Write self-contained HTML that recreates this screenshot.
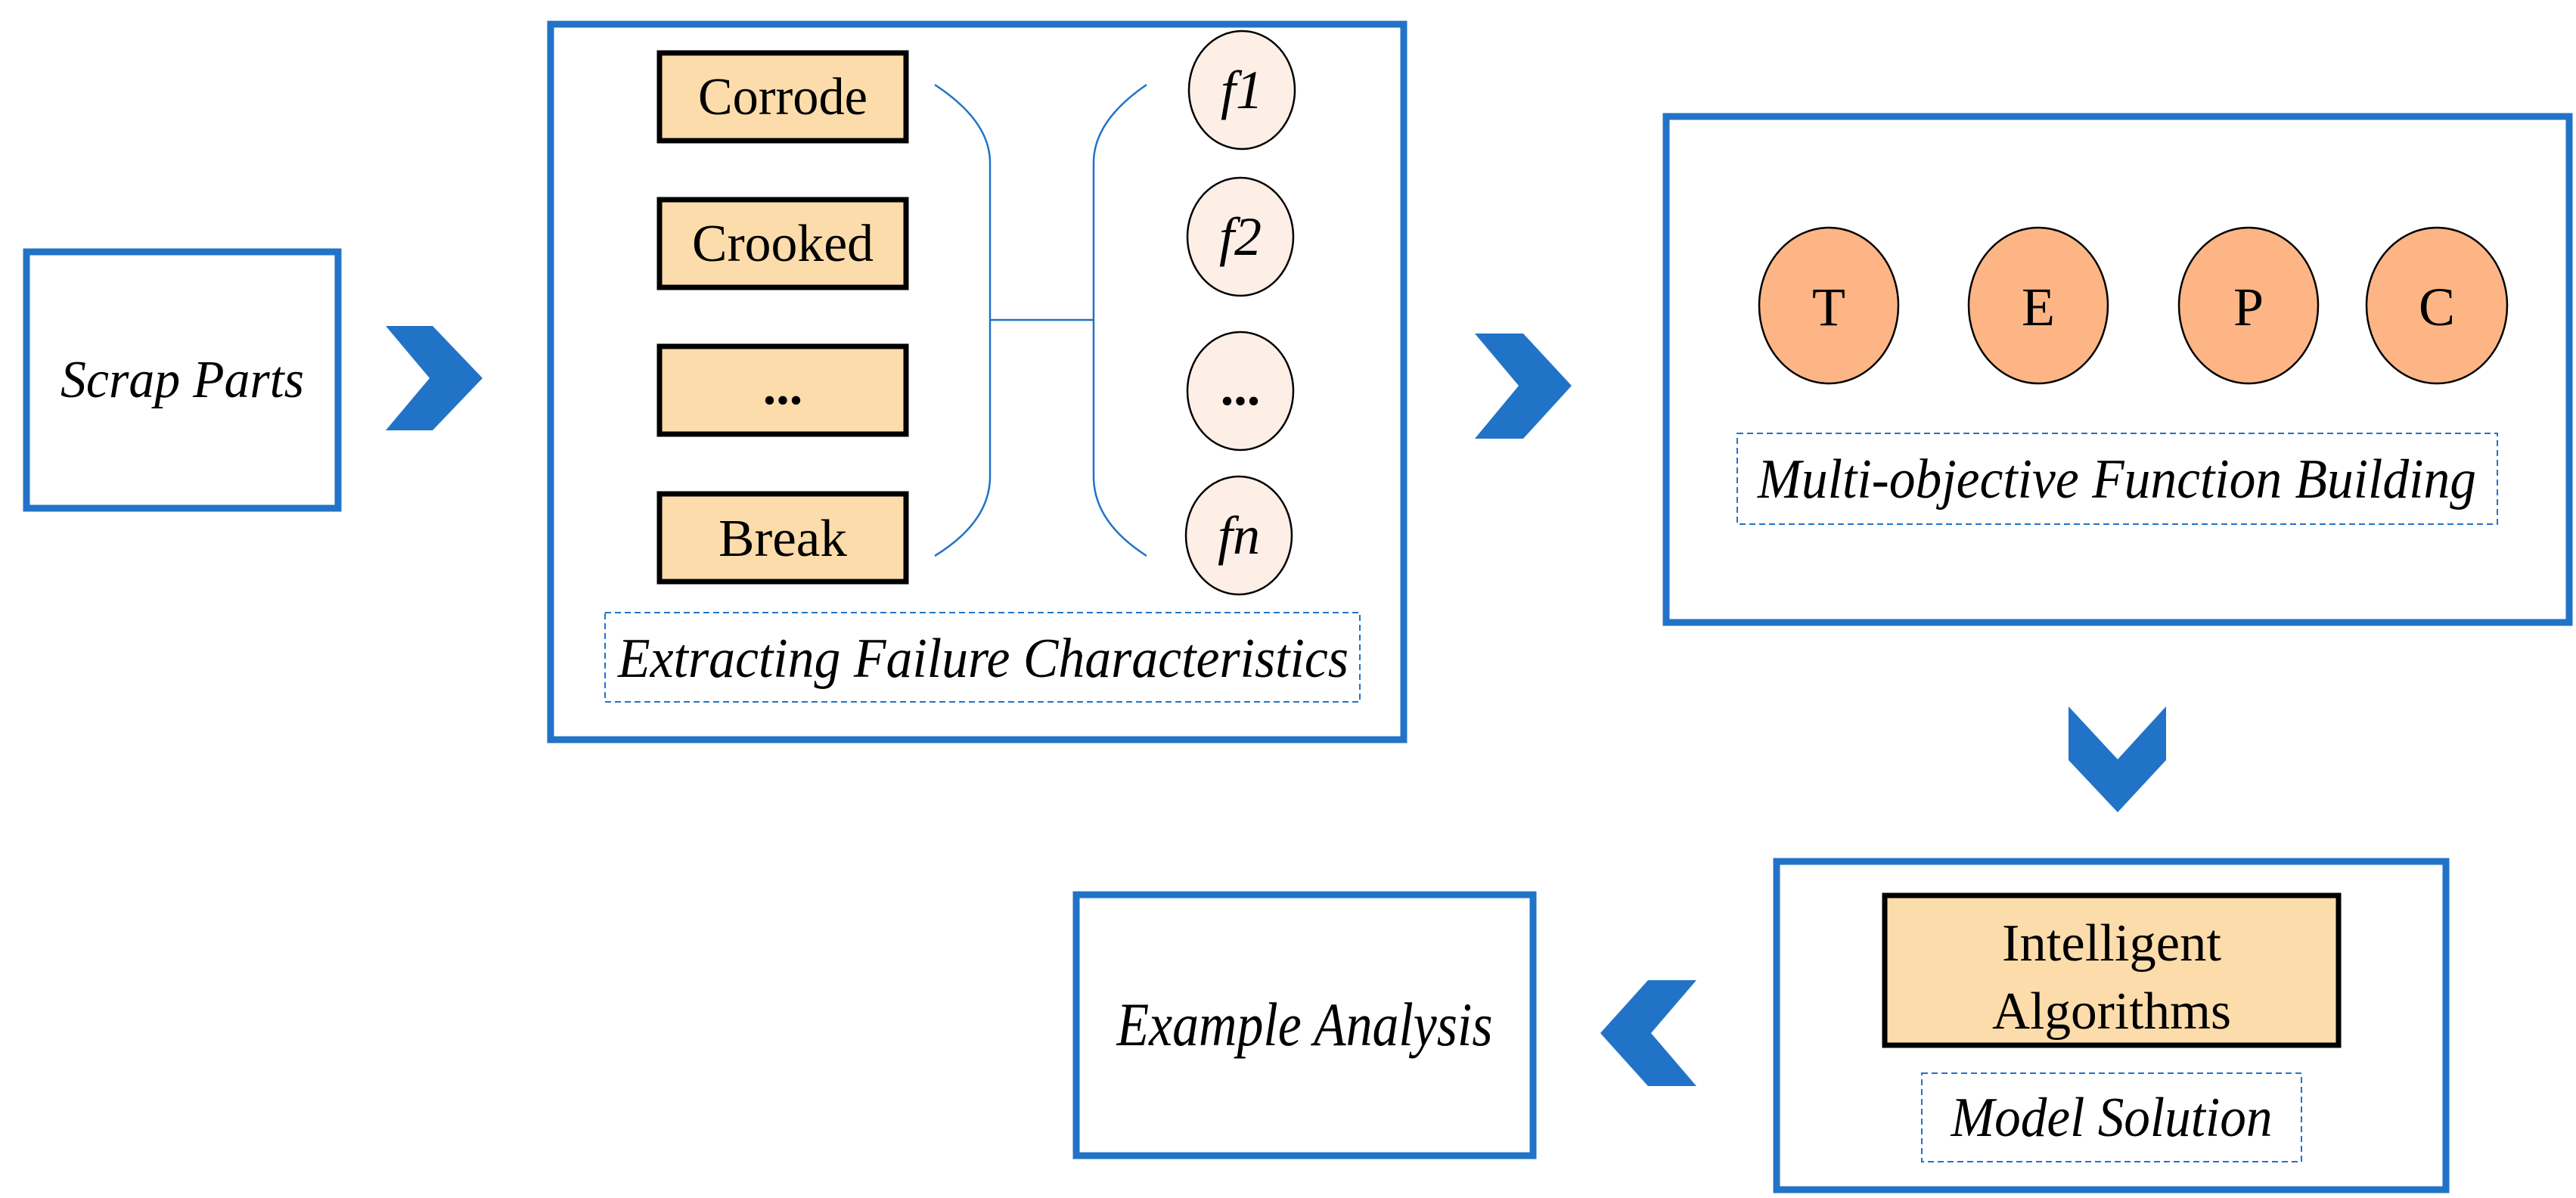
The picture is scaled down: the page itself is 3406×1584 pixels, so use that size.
<!DOCTYPE html>
<html><head><meta charset="utf-8"><style>html,body{margin:0;padding:0;background:#fff}svg{display:block}text{font-family:"Liberation Serif","DejaVu Serif",serif}</style></head>
<body>
<svg width="3406" height="1584" viewBox="0 0 3406 1584" xmlns="http://www.w3.org/2000/svg" style="font-family:'Liberation Serif',serif">
<g fill="none" stroke="#2173c7" stroke-width="9">
<rect x="35" y="333" width="412" height="339"/>
<rect x="728" y="32" width="1128" height="946"/>
<rect x="2203" y="154" width="1194" height="669"/>
<rect x="2349" y="1139" width="885" height="434"/>
<rect x="1423" y="1183" width="604" height="345"/>
</g>
<g fill="#2173c7">
<polygon points="510,431 572,431 638,500 572,569 510,569 568,500"/>
<polygon points="1950,441 2014,441 2078,510 2014,580 1950,580 2008,510"/>
<polygon points="2735,934 2800,1004 2864,934 2864,1005 2800,1074 2735,1005"/>
<polygon points="2243,1296 2179,1296 2116,1366 2179,1436 2243,1436 2183,1366"/>
</g>
<g fill="#fddcab" stroke="#000" stroke-width="7">
<rect x="872" y="70" width="326" height="116"/>
<rect x="872" y="264" width="326" height="116"/>
<rect x="872" y="458" width="326" height="116"/>
<rect x="872" y="653" width="326" height="116"/>
<rect x="2492" y="1184" width="600" height="198"/>
</g>
<g fill="none" stroke="#2173c7" stroke-width="2.5">
<path d="M1236,112 Q1309,160 1309,215 L1309,630 Q1309,690 1236,735"/>
<path d="M1516,112 Q1446,160 1446,215 L1446,630 Q1446,690 1516,735"/>
<line x1="1309" y1="423" x2="1446" y2="423"/>
</g>
<g fill="#fdeee6" stroke="#000" stroke-width="2.5">
<ellipse cx="1642" cy="119" rx="70" ry="78"/>
<ellipse cx="1640" cy="313" rx="70" ry="78"/>
<ellipse cx="1640" cy="517" rx="70" ry="78"/>
<ellipse cx="1638" cy="708" rx="70" ry="78"/>
</g>
<g fill="#fdb586" stroke="#000" stroke-width="2.5">
<ellipse cx="2418" cy="404" rx="92" ry="103"/>
<ellipse cx="2695" cy="404" rx="92" ry="103"/>
<ellipse cx="2973" cy="404" rx="92" ry="103"/>
<ellipse cx="3222" cy="404" rx="93" ry="103"/>
</g>
<g fill="none" stroke="#2173c7" stroke-width="2" stroke-dasharray="8,5">
<rect x="800" y="810" width="998" height="118"/>
<rect x="2297" y="573" width="1005" height="120"/>
<rect x="2541" y="1419" width="502" height="117"/>
</g>
<g fill="#000" font-size="70" text-anchor="middle">
<text x="1035" y="151" textLength="224" lengthAdjust="spacingAndGlyphs">Corrode</text>
<text x="1035" y="345" textLength="240" lengthAdjust="spacingAndGlyphs">Crooked</text>
<text x="1035" y="534" font-weight="bold">...</text>
<text x="1035" y="735" textLength="170" lengthAdjust="spacingAndGlyphs">Break</text>
<text x="2418" y="430" font-size="72">T</text>
<text x="2695" y="430" font-size="72">E</text>
<text x="2973" y="430" font-size="72">P</text>
<text x="3222" y="430" font-size="72">C</text>
<text x="2792" y="1270" textLength="290" lengthAdjust="spacingAndGlyphs">Intelligent</text>
<text x="2792" y="1360" textLength="316" lengthAdjust="spacingAndGlyphs">Algorithms</text>
</g>
<g fill="#000" font-style="italic" text-anchor="middle">
<text x="1642" y="143" font-size="72">f1</text>
<text x="1640" y="337" font-size="72">f2</text>
<text x="1640" y="535" font-size="70" font-style="normal" font-weight="bold">...</text>
<text x="1638" y="732" font-size="72">fn</text>
<text x="241" y="525" font-size="70" textLength="322" lengthAdjust="spacingAndGlyphs">Scrap Parts</text>
<text x="1300" y="895" font-size="74" textLength="966" lengthAdjust="spacingAndGlyphs">Extracting Failure Characteristics</text>
<text x="2799" y="658" font-size="74" textLength="950" lengthAdjust="spacingAndGlyphs">Multi-objective Function Building</text>
<text x="2792" y="1502" font-size="74" textLength="425" lengthAdjust="spacingAndGlyphs">Model Solution</text>
<text x="1725" y="1382" font-size="82" textLength="497" lengthAdjust="spacingAndGlyphs">Example Analysis</text>
</g>
</svg>
</body></html>
